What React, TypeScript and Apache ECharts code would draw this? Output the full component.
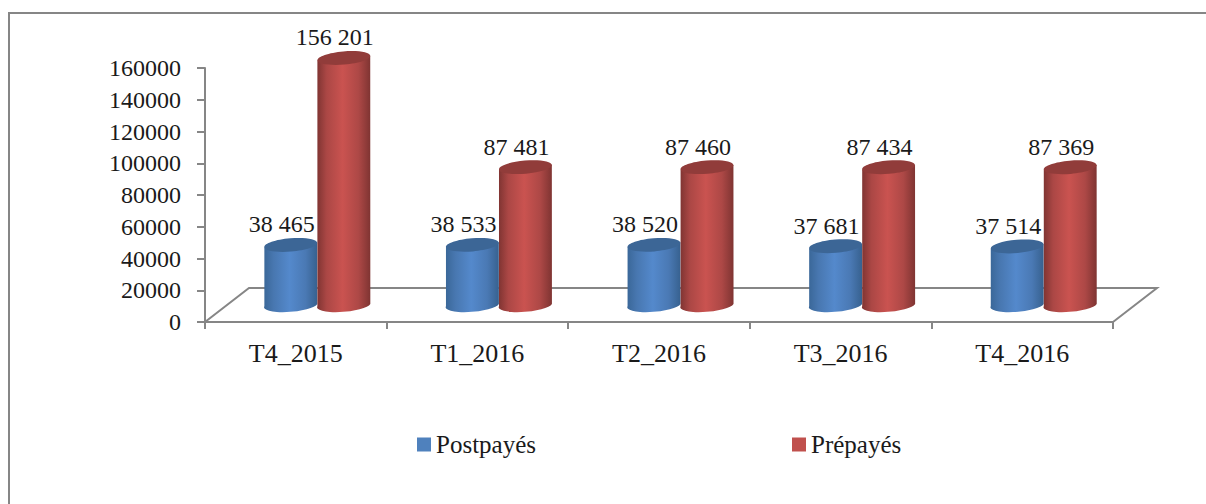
import React, { useEffect, useRef } from "react";
import * as echarts from "echarts";

const categories = ["T4_2015", "T1_2016", "T2_2016", "T3_2016", "T4_2016"];
const postpayes = [38465, 38533, 38520, 37681, 37514];
const prepayes = [156201, 87481, 87460, 87434, 87369];
const FONT = '"Liberation Serif", serif';
const AXIS_GRAY = "#868686";

const DEPTH_X = 44;
const DEPTH_Y = 34;
const TILT = 0.085;
const RY = 6.6;

const fmt = (v: number) => String(v).replace(/\B(?=(\d{3})+$)/g, " ");

const sideGrad = (stops: string[]) =>
  new echarts.graphic.LinearGradient(0, 0, 1, 0, [
    { offset: 0, color: stops[0] },
    { offset: 0.18, color: stops[1] },
    { offset: 0.48, color: stops[2] },
    { offset: 0.78, color: stops[3] },
    { offset: 1, color: stops[4] },
  ]);

function cylinderSeries(name: string, values: number[], sign: number, color: string, topColor: string, stops: string[]) {
  return {
    type: "custom",
    name,
    data: values.map((v, i) => [i, v]),
    itemStyle: { color },
    encode: { x: 0, y: 1 },
    clip: false,
    renderItem: (_p: any, api: any) => {
      const i = api.value(0);
      const v = api.value(1);
      const band = api.size([1, 0])[0];
      const rx = band * 0.146;
      const [cx0, top0] = api.coord([i, v]);
      const [, base0] = api.coord([i, 0]);
      const cx = cx0 + DEPTH_X / 2 - 0.5 + sign * rx;
      const top = top0 - DEPTH_Y / 2 + 1;
      const base = base0 - DEPTH_Y / 2 - 1;
      const dx = rx * Math.cos(TILT);
      const dy = rx * Math.sin(TILT);
      const deg = (TILT * 180) / Math.PI;
      const d =
        `M${cx - dx} ${top + dy}L${cx - dx} ${base + dy}` +
        `A${rx} ${RY} ${-deg} 0 0 ${cx + dx} ${base - dy}` +
        `L${cx + dx} ${top - dy}Z`;
      return {
        type: "group",
        children: [
          { type: "path", shape: { pathData: d }, style: { fill: sideGrad(stops) } },
          {
            type: "ellipse",
            x: cx,
            y: top,
            rotation: TILT,
            shape: { cx: 0, cy: 0, rx, ry: RY },
            style: { fill: topColor },
          },
          {
            type: "text",
            x: cx - 9,
            y: top - RY - 2,
            z2: 10,
            style: {
              text: fmt(v),
              font: `24px ${FONT}`,
              fill: "#1a1a1a",
              align: "center",
              verticalAlign: "bottom",
            },
          },
        ],
      };
    },
  };
}

const floorSeries = {
  type: "custom",
  name: "floor",
  silent: true,
  z: 1,
  clip: false,
  data: [[0, 0]],
  encode: { x: 0, y: 1 },
  renderItem: (p: any) => {
    const cs = p.coordSys;
    const y = cs.y + cs.height;
    const x = cs.x;
    const r = cs.x + cs.width;
    return {
      type: "polyline",
      shape: {
        points: [
          [x, y],
          [x + DEPTH_X, y - DEPTH_Y],
          [r + DEPTH_X, y - DEPTH_Y],
          [r, y],
        ],
      },
      style: { stroke: AXIS_GRAY, lineWidth: 2, fill: "none" },
    };
  },
};

export default function App() {
  const ref = useRef<HTMLDivElement>(null);
  useEffect(() => {
    document.body.style.margin = "0";
    const chart = echarts.init(ref.current!, undefined, { renderer: "svg" });
    chart.setOption({
      animation: false,
      backgroundColor: "#ffffff",
      grid: { left: 205, top: 68, width: 908, height: 254 },
      graphic: [
        {
          type: "polyline",
          shape: { points: [[9, 504], [9, 13], [1206, 13]] },
          style: { stroke: AXIS_GRAY, lineWidth: 2, fill: "none" },
        },
      ],
      legend: {
        data: ["Postpayés", "Prépayés"],
        left: 412,
        top: 427,
        icon: "rect",
        itemWidth: 14,
        itemHeight: 14,
        itemGap: 256,
        textStyle: { fontFamily: FONT, fontSize: 25, color: "#1a1a1a" },
      },
      xAxis: {
        type: "category",
        data: categories,
        axisLine: { lineStyle: { color: AXIS_GRAY, width: 2 } },
        axisTick: { show: true, length: 7, alignWithLabel: false, lineStyle: { color: AXIS_GRAY, width: 2 } },
        axisLabel: { fontFamily: FONT, fontSize: 26, color: "#1a1a1a", margin: 18 },
      },
      yAxis: {
        type: "value",
        min: 0,
        max: 160000,
        interval: 20000,
        splitLine: { show: false },
        axisLine: { show: true, lineStyle: { color: AXIS_GRAY, width: 2 } },
        axisTick: { show: true, length: 8, lineStyle: { color: AXIS_GRAY, width: 2 } },
        axisLabel: { fontFamily: FONT, fontSize: 24, color: "#1a1a1a", margin: 24, formatter: (v: number) => String(v) },
      },
      series: [
        floorSeries,
        cylinderSeries("Postpayés", postpayes, -1, "#4f81bd", "#3c6696", ["#3a6798", "#4877b0", "#5489cc", "#4a79b4", "#37618f"]),
        cylinderSeries("Prépayés", prepayes, 1, "#c0504d", "#913c3a", ["#7f3432", "#ab4745", "#ca5350", "#ad4846", "#7f3432"]),
      ],
    });
    return () => chart.dispose();
  }, []);
  return <div ref={ref} style={{ width: 1206, height: 504 }} />;
}
